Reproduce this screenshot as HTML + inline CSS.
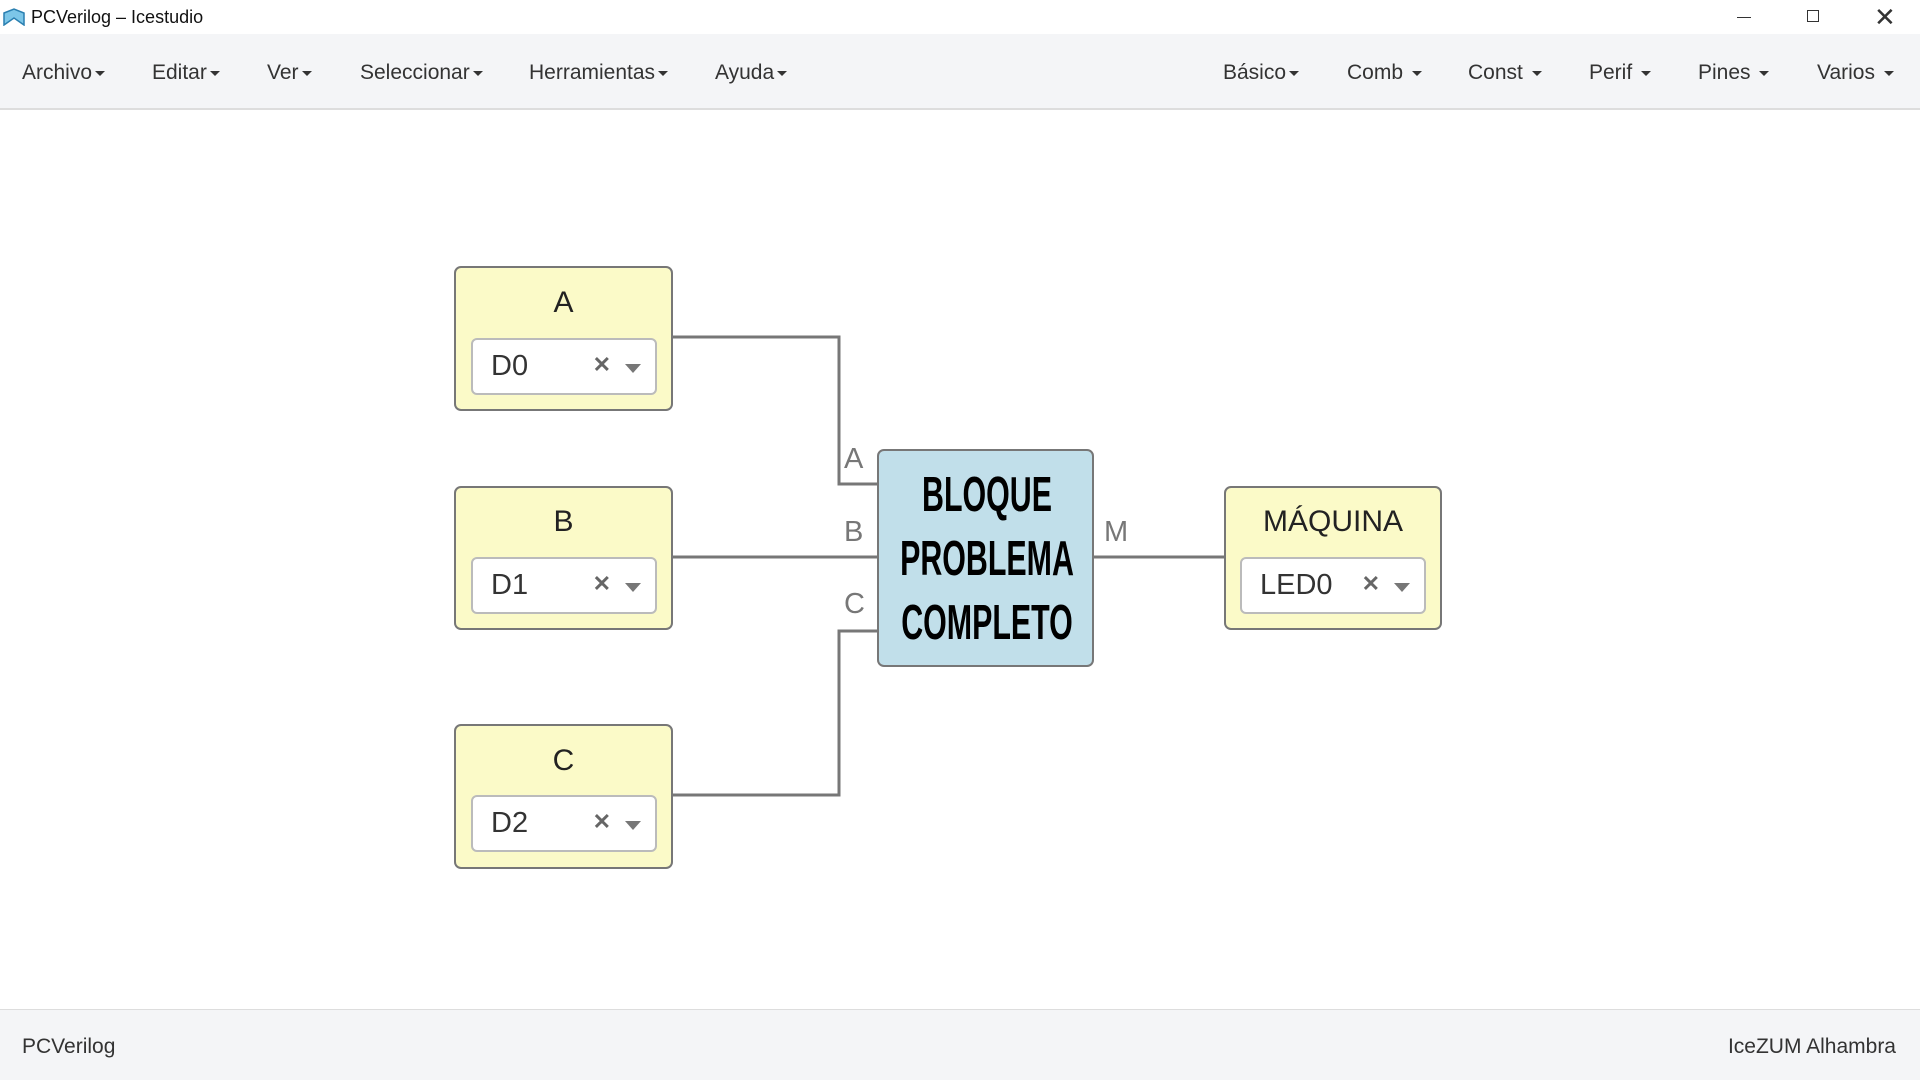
<!DOCTYPE html>
<html><head><meta charset="utf-8"><style>
*{margin:0;padding:0;box-sizing:border-box}
body{width:1920px;height:1080px;background:#fff;font-family:"Liberation Sans",sans-serif;position:relative;overflow:hidden}
.abs{position:absolute}
.title{top:0;left:0;width:1920px;height:34px;background:#fff;font-size:18px;color:#111}
.menu{top:34px;left:0;width:1920px;height:76px;background:#f4f5f7;border-bottom:2px solid #ddd}
.mi{position:absolute;top:27px;font-size:21px;color:#333}
.mi:after{content:"";display:inline-block;border-left:5px solid transparent;border-right:5px solid transparent;border-top:5px solid #333;margin-left:3px;vertical-align:middle}
.blk{position:absolute;background:#fbfac8;border:2px solid #777;border-radius:7px}
.blk .t{position:absolute;left:0;width:100%;text-align:center;font-size:30px;color:#222}
.sel{position:absolute;background:#fff;border:2px solid #bbb;border-radius:6px;font-size:29px;color:#333}
.sel span{position:absolute;left:18px;top:10px}
.sel .x{position:absolute;right:44px;top:12px;font-size:22px;color:#666;font-weight:bold}
.sel .d{position:absolute;right:14px;top:24px;border-left:8px solid transparent;border-right:8px solid transparent;border-top:9px solid #777}
.pl{position:absolute;font-size:29px;color:#777}
.main{position:absolute;left:877px;top:449px;width:217px;height:218px;background:#c1dfea;border:2px solid #777;border-radius:7px}
.main div{position:absolute;left:-92px;width:400px;text-align:center;font-weight:bold;font-size:49px;color:#000;transform:scaleX(0.62)}
.foot{top:1009px;left:0;width:1920px;height:71px;background:#f4f5f7;border-top:1px solid #ddd;font-size:21px;color:#333}
</style></head><body>
<div class="abs title">
<svg class="abs" style="left:3px;top:8px" width="22" height="18"><path d="M1 5 L11 1 L21 5 L21 17 L11 10 L1 17Z" fill="#7cc6e8" stroke="#2a7fb0" stroke-width="1.5"/></svg>
<span class="abs" style="left:31px;top:7px">PCVerilog – Icestudio</span>
<div class="abs" style="left:1737px;top:17px;width:14px;height:1px;background:#333"></div>
<div class="abs" style="left:1807px;top:10px;width:12px;height:12px;border:1px solid #333"></div>
<span class="abs" style="left:1874px;top:2px;font-size:26px;color:#333">✕</span>
</div>
<div class="abs menu">
<span class="mi" style="left:22px">Archivo</span>
<span class="mi" style="left:152px">Editar</span>
<span class="mi" style="left:267px">Ver</span>
<span class="mi" style="left:360px">Seleccionar</span>
<span class="mi" style="left:529px">Herramientas</span>
<span class="mi" style="left:715px">Ayuda</span>
<span class="mi" style="left:1223px">Básico</span>
<span class="mi" style="left:1347px">Comb&nbsp;</span>
<span class="mi" style="left:1468px">Const&nbsp;</span>
<span class="mi" style="left:1589px">Perif&nbsp;</span>
<span class="mi" style="left:1698px">Pines&nbsp;</span>
<span class="mi" style="left:1817px">Varios&nbsp;</span>
</div>
<svg class="abs" style="left:0;top:0" width="1920" height="1080">
<g stroke="#777" stroke-width="3" fill="none">
<polyline points="672,337 839,337 839,484 877,484"/>
<polyline points="672,557 877,557"/>
<polyline points="672,795 839,795 839,631 877,631"/>
<polyline points="1093,557 1224,557"/>
</g></svg>
<div class="blk" style="left:454px;top:266px;width:219px;height:145px"><div class="t" style="top:18px">A</div>
<div class="sel" style="left:15px;top:70px;width:186px;height:57px"><span>D0</span><b class="x">✕</b><i class="d"></i></div></div>
<div class="blk" style="left:454px;top:486px;width:219px;height:144px"><div class="t" style="top:17px">B</div>
<div class="sel" style="left:15px;top:69px;width:186px;height:57px"><span>D1</span><b class="x">✕</b><i class="d"></i></div></div>
<div class="blk" style="left:454px;top:724px;width:219px;height:145px"><div class="t" style="top:18px">C</div>
<div class="sel" style="left:15px;top:69px;width:186px;height:57px"><span>D2</span><b class="x">✕</b><i class="d"></i></div></div>
<div class="blk" style="left:1224px;top:486px;width:218px;height:144px"><div class="t" style="top:17px">MÁQUINA</div>
<div class="sel" style="left:14px;top:69px;width:186px;height:57px"><span>LED0</span><b class="x">✕</b><i class="d"></i></div></div>
<div class="main"><div style="top:16px">BLOQUE</div><div style="top:80px">PROBLEMA</div><div style="top:144px">COMPLETO</div></div>
<span class="pl" style="left:844px;top:443px">A</span>
<span class="pl" style="left:844px;top:516px">B</span>
<span class="pl" style="left:844px;top:588px">C</span>
<span class="pl" style="left:1104px;top:516px">M</span>
<div class="abs foot"><span class="abs" style="left:22px;top:25px">PCVerilog</span><span class="abs" style="right:24px;top:25px">IceZUM Alhambra</span></div>
</body></html>
